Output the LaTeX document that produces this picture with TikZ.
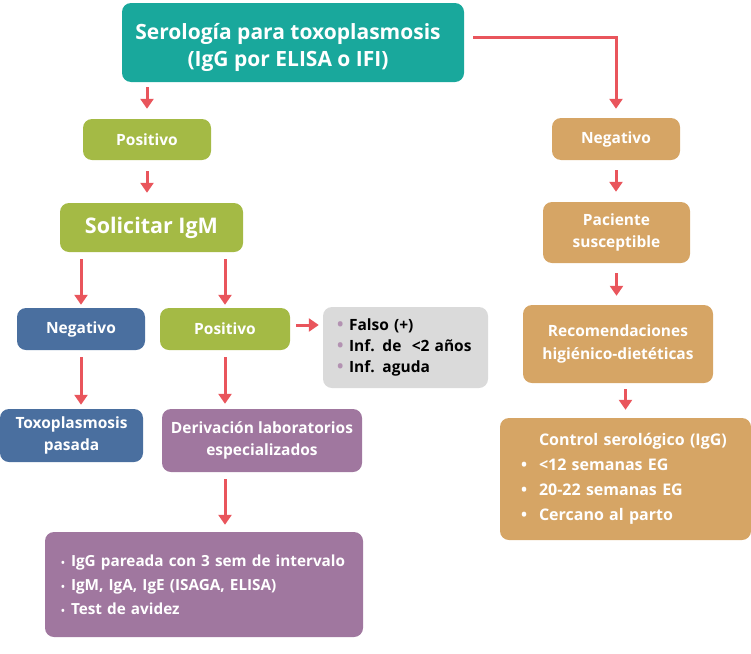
\documentclass[tikz,border=0pt]{standalone}
\usepackage{fontspec}
\setmainfont{Open Sans}
\usetikzlibrary{positioning,arrows.meta}

\definecolor{tealBox}{HTML}{19A89C}
\definecolor{greenBox}{HTML}{A4BA45}
\definecolor{blueBox}{HTML}{4A6F9F}
\definecolor{purpleBox}{HTML}{A0779F}
\definecolor{tanBox}{HTML}{D6A565}
\definecolor{grayBox}{HTML}{DADADA}
\definecolor{arrowRed}{HTML}{E9555C}

\tikzset{
  box/.style={rectangle, rounded corners=9pt, text=white, inner sep=0pt, align=center,
    font=\bfseries\fontsize{15.5}{22.5}\selectfont},
  listbox/.style={box, align=left, font=\bfseries\fontsize{15.5}{24}\selectfont},
  arr/.style={draw=arrowRed, line width=3pt, -{Triangle[width=13pt,length=10pt]},
    shorten <=7pt, shorten >=9pt}
}

\newcommand{\itemMark}[2]{\makebox[#1][l]{#2}}
\newcommand{\dotP}{\itemMark{12pt}{\textcolor{purpleBox!80}{\fontsize{17}{12}\selectfont\textbullet}}}
\newcommand{\dotW}{\itemMark{10pt}{\fontsize{10}{9}\selectfont\textbullet}}
\newcommand{\dotC}{\itemMark{18pt}{\textbullet}}

\begin{document}
\begin{tikzpicture}[x=1pt, y=-1pt]
        \useasboundingbox (0,0) rectangle (751,653);

        \node[box, fill = tealBox, minimum width = 342pt, minimum height = 79pt,
              font = \bfseries\fontsize{21}{27}\selectfont] (serologiaNode) at (293, 42.5)
              {\rule{0pt}{26pt}Serología para toxoplasmosis\hspace*{10pt}\\(IgG por ELISA o IFI)\hspace*{10pt}};

        % rama positiva
        \node[box, fill = greenBox, minimum width = 128pt, minimum height = 41pt] (positivoNode) at (147, 139.5) {Positivo};
        \node[box, fill = greenBox, minimum width = 183pt, minimum height = 49pt,
              font = \bfseries\fontsize{21.5}{24}\selectfont] (igmNode) at (151.5, 227.5) {Solicitar IgM};
        \node[box, fill = blueBox, minimum width = 128pt, minimum height = 42pt] (igmNegNode) at (81, 329) {Negativo};
        \node[box, fill = greenBox, minimum width = 130pt, minimum height = 42pt] (igmPosNode) at (225, 329) {Positivo};
        \node[listbox, fill = grayBox, text = black, text width = 137pt, inner xsep = 14pt,
              minimum height = 81pt, font = \bfseries\fontsize{15.5}{21}\selectfont] (causasNode) at (405.5, 347.5)
              {\dotP Falso (+)\\\dotP Inf. de \ <2 años\\\dotP Inf. aguda};
        \node[box, fill = blueBox, minimum width = 143pt, minimum height = 53pt] (pasadaNode) at (71.5, 435.5) {Toxoplasmosis\\pasada};
        \node[box, fill = purpleBox, minimum width = 200pt, minimum height = 63pt] (derivNode) at (262, 440.5)
              {Derivación laboratorios\\especializados};
        \node[listbox, fill = purpleBox, text width = 286pt, inner xsep = 16pt, minimum height = 105pt,
              font = \bfseries\fontsize{15.3}{24}\selectfont] (pruebasNode) at (204, 584.5)
              {\mbox{\dotW IgG pareada con 3 sem de intervalo}\\\mbox{\dotW IgM, IgA, IgE (ISAGA, ELISA)}\\\mbox{\dotW Test de avidez}};

        % rama negativa
        \node[box, fill = tanBox, minimum width = 128pt, minimum height = 42pt] (negativoNode) at (616, 139) {Negativo};
        \node[box, fill = tanBox, minimum width = 147pt, minimum height = 61pt] (susceptNode) at (616.5, 232.5)
              {Paciente\\susceptible};
        \node[box, fill = tanBox, minimum width = 190pt, minimum height = 78pt] (recomNode) at (618, 344)
              {Recomendaciones\\higiénico-dietéticas};
        \node[listbox, fill = tanBox, text width = 209pt, inner xsep = 21pt, minimum height = 122pt,
              font = \bfseries\fontsize{16}{25}\selectfont] (controlNode) at (625.5, 479)
              {\hspace*{18pt}Control serológico (IgG)\\\dotC <12 semanas EG\\\dotC 20-22 semanas EG\\\dotC Cercano al parto};

        \draw[arr, shorten <=5pt, shorten >=10pt] (serologiaNode.south -| positivoNode.north) -- (positivoNode.north);
        \draw[arr, shorten <=9pt] ([yshift=5pt]serologiaNode.east) -| (negativoNode.north);
        \draw[arr, shorten <=11pt, shorten >=10pt] (positivoNode.south) -- (positivoNode.south |- igmNode.north);
        \draw[arr, shorten >=3pt] (igmNode.south -| igmNegNode.north) -- (igmNegNode.north);
        \draw[arr, shorten >=3pt] (igmNode.south -| igmPosNode.north) -- (igmPosNode.north);
        \draw[arr, shorten <=6pt, shorten >=4pt] ([yshift=4pt]igmPosNode.east) -- ([yshift=4pt]igmPosNode.east -| causasNode.west);
        \draw[arr, shorten >=4pt] (igmNegNode.south) -- (igmNegNode.south |- pasadaNode.north);
        \draw[arr, shorten >=5pt] (igmPosNode.south) -- (igmPosNode.south |- derivNode.north);
        \draw[arr, shorten >=7pt] (derivNode.south -| igmPosNode.south) -- (pruebasNode.north -| igmPosNode.south);
        \draw[arr, shorten <=10pt, shorten >=10pt] (negativoNode.south) -- (negativoNode.south |- susceptNode.north);
        \draw[arr, shorten <=10pt] (susceptNode.south) -- (susceptNode.south |- recomNode.north);
        \draw[arr, shorten <=6pt, shorten >=8pt] (recomNode.south -| controlNode.north) -- (controlNode.north);
      \end{tikzpicture}
\end{document}
